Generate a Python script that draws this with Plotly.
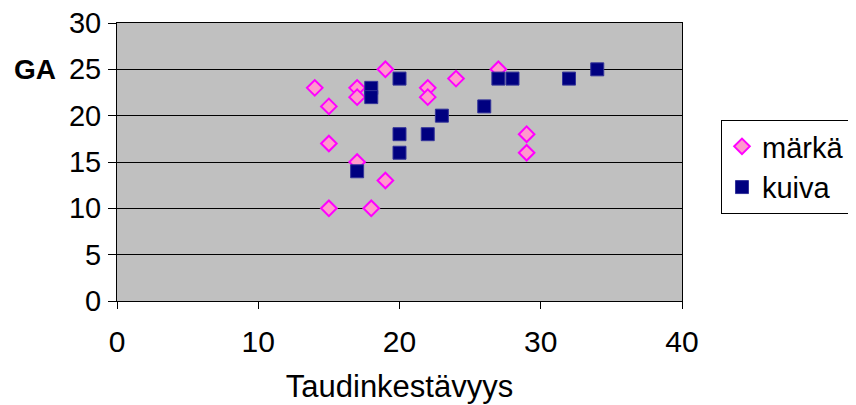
import plotly.graph_objects as go

# märkä (wet) series
marka_x = [14, 15, 15, 15, 17, 17, 17, 18, 19, 19, 22, 22, 24, 27, 29, 29]
marka_y = [23, 21, 17, 10, 23, 22, 15, 10, 25, 13, 23, 22, 24, 25, 18, 16]

# kuiva (dry) series
kuiva_x = [17, 18, 18, 20, 20, 20, 22, 23, 26, 27, 28, 32, 34]
kuiva_y = [14, 23, 22, 24, 18, 16, 18, 20, 21, 24, 24, 24, 25]

x_ticks = [0, 10, 20, 30, 40]
y_ticks = [0, 5, 10, 15, 20, 25, 30]

font_family = "Liberation Sans, Arial, sans-serif"

fig = go.Figure()
fig.add_trace(go.Scatter(
    x=marka_x, y=marka_y, mode="markers", name="märkä",
    marker=dict(symbol="diamond", size=12, color="#FF99CC",
                line=dict(color="#FF00FF", width=2)),
))
fig.add_trace(go.Scatter(
    x=kuiva_x, y=kuiva_y, mode="markers", name="kuiva",
    marker=dict(symbol="square", size=13, color="#000080",
                line=dict(color="#333399", width=1)),
))

fig.update_layout(
    width=856, height=405,
    margin=dict(l=109, r=182, t=15, b=112, autoexpand=False),
    paper_bgcolor="white",
    plot_bgcolor="#C0C0C0",
    font=dict(family=font_family, size=30, color="black"),
    showlegend=True,
    legend=dict(
        x=1.069, y=0.651, xanchor="left", yanchor="top",
        bgcolor="white", bordercolor="black", borderwidth=1,
        font=dict(size=29), tracegroupgap=0,
    ),
    xaxis=dict(
        range=[0, 40], tickvals=x_ticks, ticks="outside", ticklen=7,
        tickcolor="black", showgrid=False, zeroline=False,
        showline=True, linecolor="black", mirror=True,
        tickfont=dict(size=30), ticklabelstandoff=7,
        ticklabeloverflow="allow",
        title=dict(text="Taudinkestävyys", standoff=18,
                   font=dict(size=31)),
    ),
    yaxis=dict(
        range=[0, 30], tickvals=y_ticks, ticks="outside", ticklen=8,
        tickcolor="black", showgrid=True, gridcolor="black", gridwidth=1,
        zeroline=False, showline=True, linecolor="black", mirror=True,
        tickfont=dict(size=29), ticklabelstandoff=1,
        ticklabeloverflow="allow",
    ),
    annotations=[dict(
        text="<b>GA</b>", xref="paper", yref="y", x=-0.104, y=25,
        xanchor="right", yanchor="middle", showarrow=False,
        font=dict(size=28, family=font_family),
    )],
)

fig.write_html("out.html")
